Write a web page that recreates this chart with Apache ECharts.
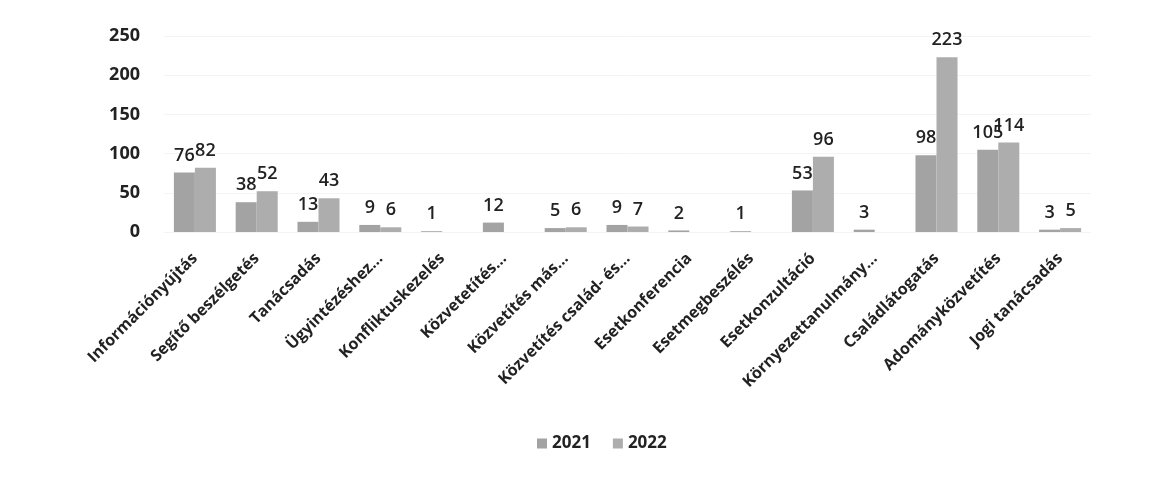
<!DOCTYPE html>
<html><head><meta charset="utf-8">
<script src="https://cdn.jsdelivr.net/npm/echarts@6/dist/echarts.min.js"></script>
<style>html,body{margin:0;padding:0;background:#fff}#c{width:1163px;height:479px}</style>
</head><body><div id="c"></div>
<script>
var categories = ["Információnyújtás","Segítő beszélgetés","Tanácsadás","Ügyintézéshez...","Konfliktuskezelés","Közvetetítés...","Közvetítés más...","Közvetítés család- és...","Esetkonferencia","Esetmegbeszélés","Esetkonzultáció","Környezettanulmány...","Családlátogatás","Adományközvetítés","Jogi tanácsadás"];
var values2021 = [76,38,13,9,1,12,5,9,2,1,53,3,98,105,3];
var values2022 = [82,52,43,6,null,null,6,7,null,null,96,null,223,114,5];
var yTicks = [0,50,100,150,200,250];

var chart = echarts.init(document.getElementById('c'));
var lbl = {show:true, position:'top', distance:8, color:'#222', fontSize:18, fontFamily:'Open Sans', fontWeight:600};
chart.setOption({
  animation:false,
  grid:{left:164, right:72, top:36, bottom:247},
  legend:{bottom:22, left:532, itemWidth:10, itemHeight:10, itemGap:22, icon:'rect',
    textStyle:{color:'#222', fontSize:17, fontFamily:'Open Sans', fontWeight:'bold'},
    data:['2021','2022']},
  xAxis:{type:'category', data:categories, axisLine:{show:false}, axisTick:{show:false},
    axisLabel:{rotate:45, interval:0, margin:24, color:'#222', fontSize:16, fontFamily:'Open Sans', fontWeight:'bold'}},
  yAxis:{type:'value', min:yTicks[0], max:yTicks[yTicks.length-1], interval:50,
    splitLine:{show:true, lineStyle:{color:'#f4f4f4'}}, axisLine:{show:false}, axisTick:{show:false},
    axisLabel:{margin:24, color:'#222', fontSize:18, fontFamily:'Open Sans', fontWeight:'bold'}},
  series:[
    {name:'2021', type:'bar', data:values2021, barGap:'0%', barCategoryGap:'32%', itemStyle:{color:'#a3a3a3'}, label:lbl},
    {name:'2022', type:'bar', data:values2022, itemStyle:{color:'#adadad'}, label:lbl}
  ]
});
</script></body></html>
